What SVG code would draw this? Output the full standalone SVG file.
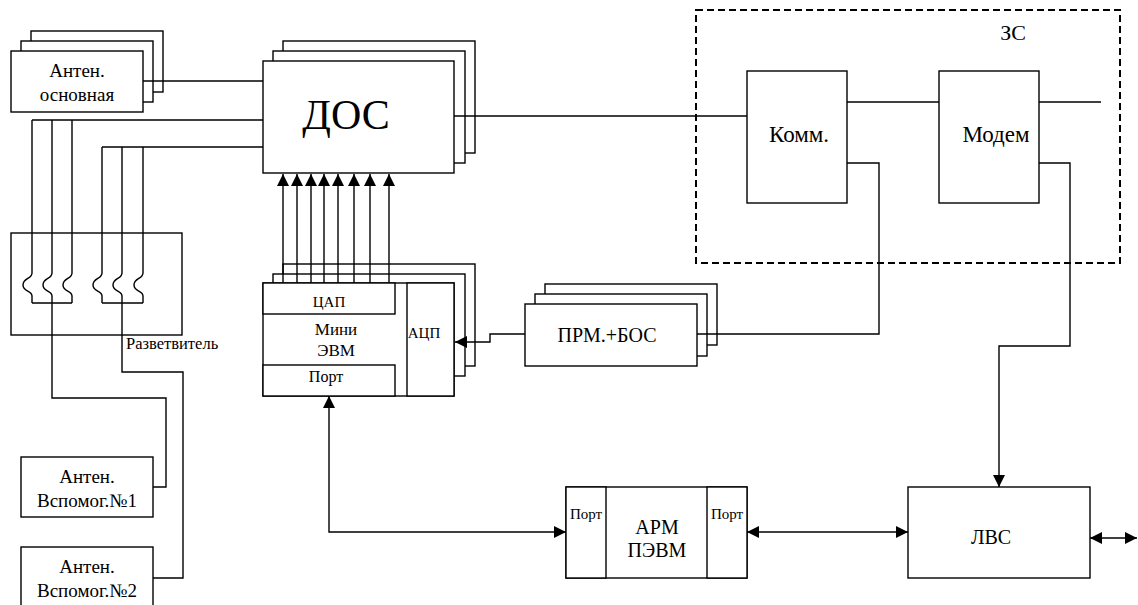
<svg xmlns="http://www.w3.org/2000/svg" width="1138" height="605" viewBox="0 0 1138 605" font-family="'Liberation Serif', 'Times New Roman', serif">
<defs>
<marker id="ah" viewBox="0 0 12 12" markerWidth="12" markerHeight="12" refX="12" refY="6" orient="auto-start-reverse" markerUnits="userSpaceOnUse">
<path d="M0,0 L12,6 L0,12 z" fill="#000"/>
</marker>
<style>
rect{fill:#fff;stroke:#000;stroke-width:1.4}
.ln{fill:none;stroke:#000;stroke-width:1.4}
.arr{fill:none;stroke:#000;stroke-width:1.4;marker-end:url(#ah)}
.arr2{fill:none;stroke:#000;stroke-width:1.4;marker-start:url(#ah);marker-end:url(#ah)}
text{font-family:'Liberation Serif','Times New Roman',serif;fill:#000;text-anchor:middle}
</style>
</defs>
<rect x="0" y="0" width="1138" height="605" style="fill:#fff;stroke:none"/>

<g id="zs">
<rect x="696" y="10" width="424" height="253" style="fill:none;stroke-width:2;stroke-dasharray:7,4"/>
<text x="1013" y="40" font-size="22">ЗС</text>
</g>

<g id="ant-main">
<rect x="31" y="31" width="132" height="61"/>
<rect x="21" y="41" width="132" height="61"/>
<rect x="11" y="51" width="132" height="61"/>
<text x="77" y="77" font-size="19">Антен.</text>
<text x="77" y="101" font-size="19">основная</text>
</g>

<g id="dos">
<rect x="283" y="41" width="192" height="112"/>
<rect x="273" y="51" width="192" height="112"/>
<rect x="263" y="61" width="191" height="112"/>
<text x="346" y="129" font-size="42">ДОС</text>
</g>

<g id="splitter">
<rect x="11" y="233" width="171" height="102"/>
<text x="126" y="349" font-size="16.5" style="text-anchor:start">Разветвитель</text>
</g>

<g id="mini">
<rect x="283" y="264" width="192" height="102"/>
<rect x="273" y="274" width="192" height="102"/>
<rect x="263" y="283" width="191" height="113"/>
<rect x="263" y="283" width="132" height="31"/>
<rect x="263" y="365" width="132" height="31"/>
<rect x="407" y="283" width="47" height="113"/>
<text x="329" y="307" font-size="15">ЦАП</text>
<text x="336" y="335" font-size="17">Мини</text>
<text x="336" y="356" font-size="17">ЭВМ</text>
<text x="326" y="382" font-size="16">Порт</text>
<text x="424" y="338" font-size="15">АЦП</text>
</g>

<g id="prm">
<rect x="545" y="284" width="172" height="61"/>
<rect x="535" y="294" width="172" height="62"/>
<rect x="525" y="304" width="172" height="62"/>
<text x="607" y="342" font-size="20">ПРМ.+БОС</text>
</g>

<g id="komm">
<rect x="747" y="71" width="100" height="132"/>
<text x="799" y="142" font-size="23">Комм.</text>
</g>

<g id="modem">
<rect x="939" y="71" width="100" height="132"/>
<text x="996" y="142" font-size="23">Модем</text>
</g>

<g id="ant1">
<rect x="21" y="457" width="132" height="60"/>
<text x="87" y="483" font-size="19">Антен.</text>
<text x="87" y="507" font-size="19">Вспомог.№1</text>
</g>

<g id="ant2">
<rect x="21" y="547" width="132" height="64"/>
<text x="87" y="573" font-size="19">Антен.</text>
<text x="87" y="597" font-size="19">Вспомог.№2</text>
</g>

<g id="arm">
<rect x="566" y="487" width="181" height="91"/>
<rect x="566" y="487" width="40" height="91"/>
<rect x="707" y="487" width="40" height="91"/>
<text x="586" y="519" font-size="15">Порт</text>
<text x="727" y="519" font-size="15">Порт</text>
<text x="657" y="534" font-size="20">АРМ</text>
<text x="657" y="557" font-size="20">ПЭВМ</text>
</g>

<g id="lvs">
<rect x="908" y="487" width="182" height="91"/>
<text x="991" y="544" font-size="20">ЛВС</text>
</g>

<g id="connectors">
<path class="ln" d="M143,81 H263"/>
<path class="ln" d="M32,120 H263 M102,147 H263"/>
<path class="ln" d="M32,120 V273 C32,279 23,278 23,285 C23,292 32,290 32,296 V303"/>
<path class="ln" d="M52,120 V273 C52,279 43,278 43,285 C43,292 52,290 52,296 V303"/>
<path class="ln" d="M72,120 V273 C72,279 63,278 63,285 C63,292 72,290 72,296 V303"/>
<path class="ln" d="M102,147 V273 C102,279 93,278 93,285 C93,292 102,290 102,296 V303"/>
<path class="ln" d="M122,147 V273 C122,279 113,278 113,285 C113,292 122,290 122,296 V303"/>
<path class="ln" d="M143,147 V273 C143,279 134,278 134,285 C134,292 143,290 143,296 V303"/>
<path class="ln" d="M32,303 H72 M102,303 H143"/>
<path class="ln" d="M52,303 V398 H166 V487 H153"/>
<path class="ln" d="M122,303 V372 H183 V578 H153"/>
<path class="arr" d="M283,283 V174"/>
<path class="arr" d="M297,283 V174"/>
<path class="arr" d="M311,283 V174"/>
<path class="arr" d="M324,283 V174"/>
<path class="arr" d="M338,283 V174"/>
<path class="arr" d="M354,283 V174"/>
<path class="arr" d="M370,283 V174"/>
<path class="arr" d="M389,283 V174"/>
<path class="ln" d="M454,116 H747"/>
<path class="ln" d="M847,102 H939"/>
<path class="ln" d="M1039,102 H1101"/>
<path class="ln" d="M847,163 H879 V334 H697"/>
<path class="arr" d="M525,334 H490 V342 H455"/>
<path class="arr" d="M1039,163 H1070 V346 H999 V487"/>
<path class="arr2" d="M329,396 V532 H566"/>
<path class="arr2" d="M747,532 H908"/>
<path class="arr2" d="M1090,538 H1137"/>
</g>
</svg>
